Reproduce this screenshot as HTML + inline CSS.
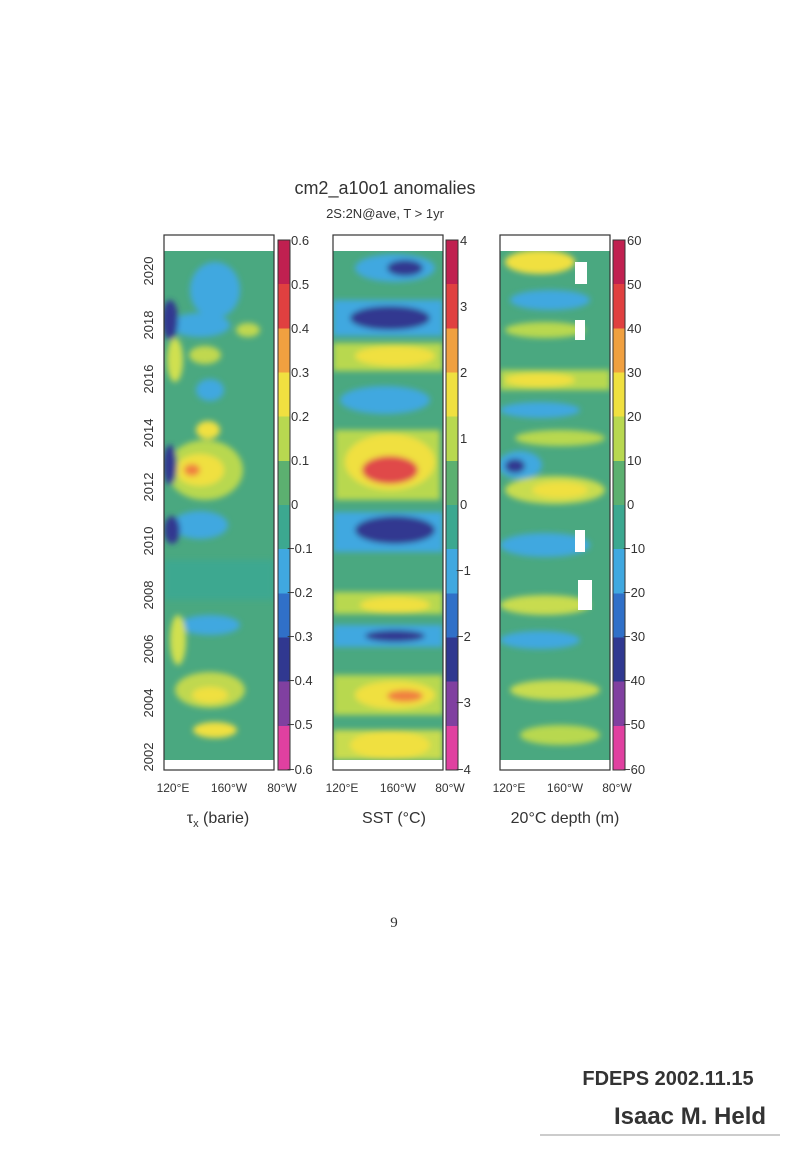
<!DOCTYPE html>
<html><head><meta charset="utf-8"><style>
body{margin:0;background:#fff;}
svg text{font-family:"Liberation Sans",sans-serif;fill:#333;}
</style></head><body>
<svg width="792" height="1159" viewBox="0 0 792 1159" xmlns="http://www.w3.org/2000/svg">
<defs>
<filter id="b" x="-20%" y="-20%" width="140%" height="140%"><feGaussianBlur stdDeviation="3"/></filter>
<clipPath id="c1"><rect x="164" y="251" width="110" height="509"/></clipPath>
<clipPath id="c2"><rect x="333" y="251" width="110" height="509"/></clipPath>
<clipPath id="c3"><rect x="500" y="251" width="110" height="509"/></clipPath>
<linearGradient id="cb" x1="0" y1="1" x2="0" y2="0">
<stop offset="0" stop-color="#e040a0"/><stop offset="0.0833" stop-color="#e040a0"/>
<stop offset="0.0833" stop-color="#8040a0"/><stop offset="0.1667" stop-color="#8040a0"/>
<stop offset="0.1667" stop-color="#303890"/><stop offset="0.25" stop-color="#303890"/>
<stop offset="0.25" stop-color="#3070c8"/><stop offset="0.3333" stop-color="#3070c8"/>
<stop offset="0.3333" stop-color="#40a8e0"/><stop offset="0.4167" stop-color="#40a8e0"/>
<stop offset="0.4167" stop-color="#3ca890"/><stop offset="0.5" stop-color="#3ca890"/>
<stop offset="0.5" stop-color="#5cb070"/><stop offset="0.5833" stop-color="#5cb070"/>
<stop offset="0.5833" stop-color="#b8d850"/><stop offset="0.6667" stop-color="#b8d850"/>
<stop offset="0.6667" stop-color="#f0e040"/><stop offset="0.75" stop-color="#f0e040"/>
<stop offset="0.75" stop-color="#f0a040"/><stop offset="0.8333" stop-color="#f0a040"/>
<stop offset="0.8333" stop-color="#e04040"/><stop offset="0.9167" stop-color="#e04040"/>
<stop offset="0.9167" stop-color="#c02050"/><stop offset="1" stop-color="#c02050"/>
</linearGradient>
</defs>
<text x="385" y="194" font-size="18" text-anchor="middle">cm2_a10o1 anomalies</text>
<text x="385" y="218" font-size="13" text-anchor="middle">2S:2N@ave, T &gt; 1yr</text>

<!-- Panel 1 -->
<g clip-path="url(#c1)">
<rect x="164" y="251" width="110" height="509" fill="#4aa880"/>
<g filter="url(#b)">
<ellipse cx="215" cy="290" rx="25" ry="28" fill="#40a8e0"/>
<ellipse cx="200" cy="325" rx="30" ry="12" fill="#40a8e0"/>
<ellipse cx="170" cy="320" rx="8" ry="20" fill="#303890"/>
<ellipse cx="248" cy="330" rx="12" ry="7" fill="#c0d850"/>
<ellipse cx="205" cy="355" rx="16" ry="9" fill="#c0d850"/>
<ellipse cx="175" cy="360" rx="8" ry="22" fill="#d0e050"/>
<ellipse cx="210" cy="390" rx="14" ry="11" fill="#40a8e0"/>
<ellipse cx="205" cy="470" rx="38" ry="30" fill="#b8d850"/>
<ellipse cx="200" cy="470" rx="24" ry="16" fill="#f0e040"/>
<ellipse cx="192" cy="470" rx="8" ry="6" fill="#f08040"/>
<ellipse cx="208" cy="430" rx="12" ry="9" fill="#f0e040"/>
<ellipse cx="170" cy="465" rx="7" ry="20" fill="#303890"/>
<ellipse cx="200" cy="525" rx="28" ry="14" fill="#40a8e0"/>
<ellipse cx="172" cy="530" rx="8" ry="14" fill="#303890"/>
<rect x="164" y="560" width="110" height="40" fill="#3ca890"/>
<ellipse cx="210" cy="625" rx="30" ry="10" fill="#40a8e0"/>
<ellipse cx="210" cy="690" rx="35" ry="18" fill="#c0d850"/>
<ellipse cx="210" cy="695" rx="18" ry="8" fill="#f0e040"/>
<ellipse cx="215" cy="730" rx="22" ry="8" fill="#f0e040"/>
<ellipse cx="178" cy="640" rx="8" ry="25" fill="#d0e050"/>
</g></g>
<rect x="164" y="235" width="110" height="535" fill="none" stroke="#333" stroke-width="1.2"/>
<rect x="278" y="240" width="12" height="530" fill="url(#cb)" stroke="#333"/>

<!-- Panel 2 -->
<g clip-path="url(#c2)">
<rect x="333" y="251" width="110" height="509" fill="#4aa880"/>
<g filter="url(#b)">
<ellipse cx="395" cy="268" rx="40" ry="14" fill="#40a8e0"/><ellipse cx="405" cy="268" rx="18" ry="8" fill="#303890"/>
<rect x="333" y="300" width="110" height="36" fill="#40a8e0"/><ellipse cx="390" cy="318" rx="40" ry="12" fill="#303890"/>
<rect x="333" y="343" width="110" height="28" fill="#b8d850"/><ellipse cx="395" cy="356" rx="40" ry="10" fill="#f0e040"/>
<ellipse cx="385" cy="400" rx="45" ry="14" fill="#40a8e0"/>
<rect x="335" y="430" width="105" height="70" fill="#b8d850"/><ellipse cx="390" cy="462" rx="45" ry="28" fill="#f0e040"/>
<ellipse cx="390" cy="470" rx="28" ry="14" fill="#e04848"/>
<rect x="333" y="512" width="110" height="40" fill="#40a8e0"/><ellipse cx="395" cy="530" rx="40" ry="14" fill="#303890"/>
<rect x="333" y="592" width="110" height="22" fill="#b8d850"/><ellipse cx="395" cy="605" rx="35" ry="8" fill="#f0e040"/>
<rect x="333" y="625" width="110" height="22" fill="#40a8e0"/><ellipse cx="395" cy="636" rx="30" ry="6" fill="#303890"/>
<rect x="333" y="675" width="110" height="40" fill="#b8d850"/><ellipse cx="395" cy="695" rx="40" ry="14" fill="#f0e040"/><ellipse cx="405" cy="696" rx="18" ry="6" fill="#f08040"/>
<rect x="333" y="730" width="110" height="30" fill="#c8dc50"/><ellipse cx="390" cy="745" rx="40" ry="14" fill="#f0e040"/>
</g></g>
<rect x="333" y="235" width="110" height="535" fill="none" stroke="#333" stroke-width="1.2"/>
<rect x="446" y="240" width="12" height="530" fill="url(#cb)" stroke="#333"/>

<!-- Panel 3 -->
<g clip-path="url(#c3)">
<rect x="500" y="251" width="110" height="509" fill="#4aa880"/>
<g filter="url(#b)">
<ellipse cx="540" cy="262" rx="35" ry="12" fill="#f0e040"/>
<ellipse cx="550" cy="300" rx="40" ry="10" fill="#40a8e0"/>
<ellipse cx="545" cy="330" rx="40" ry="8" fill="#b8d850"/>
<rect x="500" y="370" width="110" height="20" fill="#b8d850"/><ellipse cx="540" cy="380" rx="35" ry="7" fill="#f0e040"/>
<ellipse cx="540" cy="410" rx="40" ry="8" fill="#40a8e0"/>
<ellipse cx="560" cy="438" rx="45" ry="8" fill="#b8d850"/>
<ellipse cx="520" cy="465" rx="22" ry="14" fill="#40a8e0"/><ellipse cx="515" cy="466" rx="10" ry="7" fill="#303890"/>
<ellipse cx="555" cy="490" rx="50" ry="14" fill="#c8dc50"/><ellipse cx="560" cy="490" rx="28" ry="8" fill="#f0e040"/>
<ellipse cx="545" cy="545" rx="45" ry="12" fill="#40a8e0"/>
<ellipse cx="545" cy="605" rx="45" ry="10" fill="#c8dc50"/>
<ellipse cx="540" cy="640" rx="40" ry="9" fill="#40a8e0"/>
<ellipse cx="555" cy="690" rx="45" ry="10" fill="#c8dc50"/>
<ellipse cx="560" cy="735" rx="40" ry="10" fill="#b8d850"/>
</g>
<rect x="575" y="262" width="12" height="22" fill="#fff"/><rect x="575" y="320" width="10" height="20" fill="#fff"/>
<rect x="575" y="530" width="10" height="22" fill="#fff"/><rect x="578" y="580" width="14" height="30" fill="#fff"/>
</g>
<rect x="500" y="235" width="110" height="535" fill="none" stroke="#333" stroke-width="1.2"/>
<rect x="613" y="240" width="12" height="530" fill="url(#cb)" stroke="#333"/>

<!-- Year labels -->
<g font-size="13">
<text transform="translate(153,757) rotate(-90)" text-anchor="middle">2002</text>
<text transform="translate(153,703) rotate(-90)" text-anchor="middle">2004</text>
<text transform="translate(153,649) rotate(-90)" text-anchor="middle">2006</text>
<text transform="translate(153,595) rotate(-90)" text-anchor="middle">2008</text>
<text transform="translate(153,541) rotate(-90)" text-anchor="middle">2010</text>
<text transform="translate(153,487) rotate(-90)" text-anchor="middle">2012</text>
<text transform="translate(153,433) rotate(-90)" text-anchor="middle">2014</text>
<text transform="translate(153,379) rotate(-90)" text-anchor="middle">2016</text>
<text transform="translate(153,325) rotate(-90)" text-anchor="middle">2018</text>
<text transform="translate(153,271) rotate(-90)" text-anchor="middle">2020</text>
</g>
<!-- colorbar labels -->
<g font-size="13">
<text x="291" y="245">0.6</text><text x="291" y="289">0.5</text><text x="291" y="333">0.4</text><text x="291" y="377">0.3</text><text x="291" y="421">0.2</text><text x="291" y="465">0.1</text><text x="291" y="509">0</text><text x="287" y="553">−0.1</text><text x="287" y="597">−0.2</text><text x="287" y="641">−0.3</text><text x="287" y="685">−0.4</text><text x="287" y="729">−0.5</text><text x="287" y="774">−0.6</text>
<text x="460" y="245">4</text><text x="460" y="311">3</text><text x="460" y="377">2</text><text x="460" y="443">1</text><text x="460" y="509">0</text><text x="456" y="575">−1</text><text x="456" y="641">−2</text><text x="456" y="707">−3</text><text x="456" y="774">−4</text>
<text x="627" y="245">60</text><text x="627" y="289">50</text><text x="627" y="333">40</text><text x="627" y="377">30</text><text x="627" y="421">20</text><text x="627" y="465">10</text><text x="627" y="509">0</text><text x="623" y="553">−10</text><text x="623" y="597">−20</text><text x="623" y="641">−30</text><text x="623" y="685">−40</text><text x="623" y="729">−50</text><text x="623" y="774">−60</text>
</g>
<!-- x labels -->
<g font-size="12" text-anchor="middle">
<text x="173" y="792">120°E</text><text x="229" y="792">160°W</text><text x="282" y="792">80°W</text>
<text x="342" y="792">120°E</text><text x="398" y="792">160°W</text><text x="450" y="792">80°W</text>
<text x="509" y="792">120°E</text><text x="565" y="792">160°W</text><text x="617" y="792">80°W</text>
</g>
<g font-size="16" text-anchor="middle">
<text x="218" y="823">τ<tspan font-size="11" dy="4">x</tspan><tspan dy="-4"> (barie)</tspan></text>
<text x="394" y="823">SST (°C)</text>
<text x="565" y="823">20°C depth (m)</text>
</g>
<text x="394" y="927" font-size="15" text-anchor="middle" style="font-family:'Liberation Serif',serif">9</text>
<text x="668" y="1085" font-size="20" font-weight="bold" text-anchor="middle">FDEPS 2002.11.15</text>
<text x="690" y="1124" font-size="24" font-weight="bold" text-anchor="middle">Isaac M. Held</text>
<line x1="540" y1="1135" x2="780" y2="1135" stroke="#999"/>
</svg>
</body></html>
